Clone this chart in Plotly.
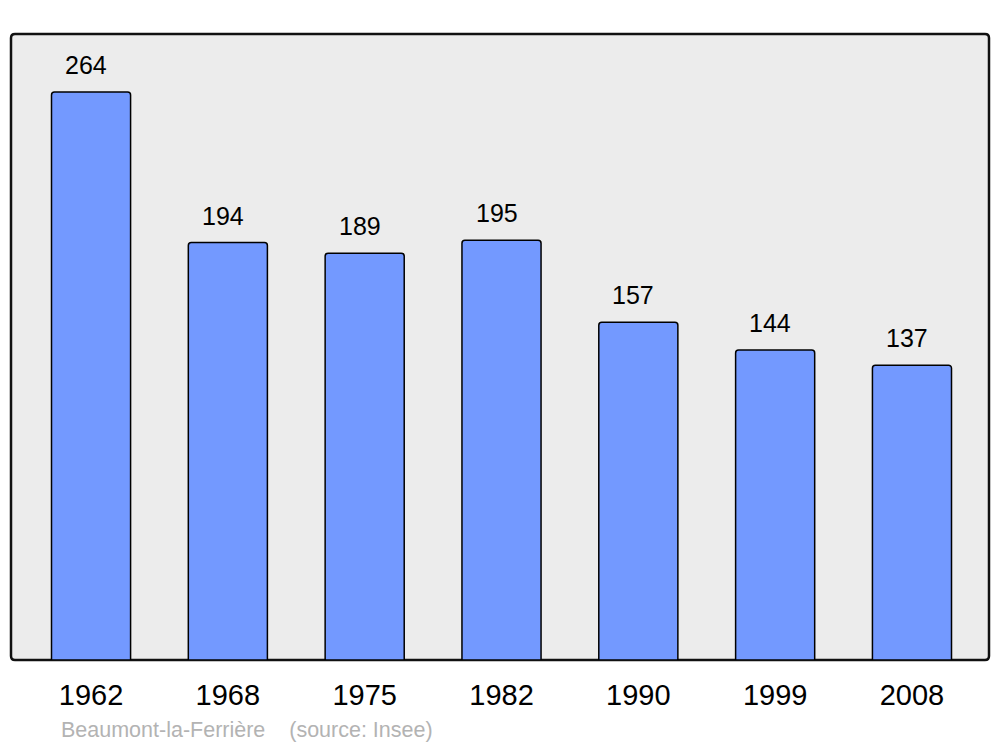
import plotly.graph_objects as go

years = ["1962", "1968", "1975", "1982", "1990", "1999", "2008"]
population = [264, 194, 189, 195, 157, 144, 137]
title_text = "Beaumont-la-Ferrière    (source: Insee)"

W, H = 1000, 747
ml, mr, mt, mb = 11, 11, 34, 87
pw = W - ml - mr
ph = H - mt - mb

fig = go.Figure()
fig.add_trace(go.Bar(
    x=list(range(len(years))), y=population,
    width=0.578,
    marker=dict(color="#7399ff", line=dict(color="#000000", width=1.5), cornerradius=3),
    hoverinfo="skip",
))

for i, v in enumerate(population):
    fig.add_annotation(x=i, y=v, text=str(v), showarrow=False, xref="x", yref="y",
                       yanchor="bottom", yshift=11, xshift=-5,
                       font=dict(family="Liberation Sans, Arial", size=25, color="#000000"))

fig.add_annotation(x=48 / pw, xref="paper", y=-(730 - 660) / ph, yref="paper",
                   xanchor="left", yanchor="middle", showarrow=False, text=title_text,
                   font=dict(family="Liberation Sans, Arial", size=21.5, color="#b3b3b3"))

# rounded frame
rx = 4 / pw
ry = 4 / ph
path = (f"M {rx},0 L {1-rx},0 Q 1,0 1,{ry} L 1,{1-ry} Q 1,1 {1-rx},1 "
        f"L {rx},1 Q 0,1 0,{1-ry} L 0,{ry} Q 0,0 {rx},0 Z")
fig.add_shape(type="path", path=path, xref="paper", yref="paper",
              line=dict(color="#111111", width=2.5), fillcolor="#ececec", layer="below")

fig.update_layout(
    width=W, height=H,
    margin=dict(l=ml, r=mr, t=mt, b=mb),
    paper_bgcolor="#ffffff", plot_bgcolor="rgba(0,0,0,0)",
    showlegend=False,
    xaxis=dict(range=[-0.585, 6.563], tickmode="array", tickvals=list(range(len(years))),
               ticktext=years, showgrid=False, zeroline=False, showline=False,
               ticks="", tickfont=dict(family="Liberation Sans, Arial", size=29, color="#000000"),
               ticklabelstandoff=15, fixedrange=True),
    yaxis=dict(range=[0, 290.9], showgrid=False, zeroline=False, showline=False,
               showticklabels=False, ticks="", fixedrange=True),
)

fig.write_html("out.html", config={"displayModeBar": False},
               post_script="document.body.style.margin='0';document.body.style.overflow='hidden';")
